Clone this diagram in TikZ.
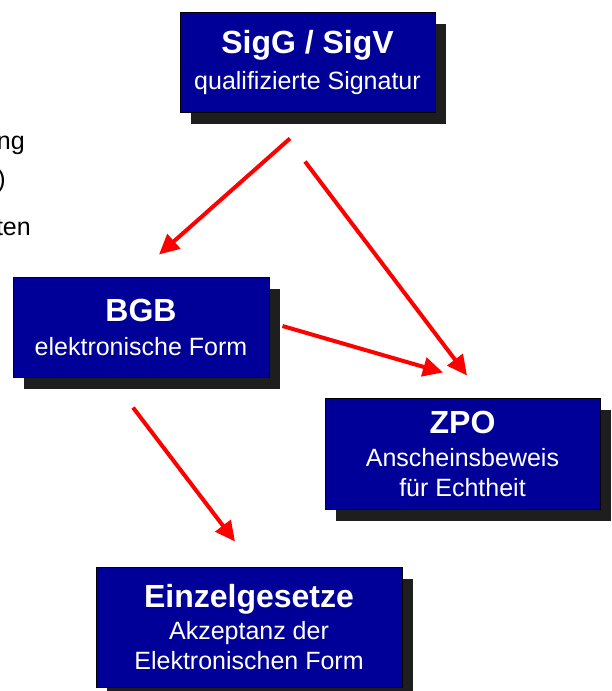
\documentclass[tikz,border=0pt]{standalone}
\usepackage{fontspec}
\setmainfont{Liberation Sans}
\usepackage{tikz}
\usetikzlibrary{
  arrows.meta,
  calc,
  shadows
}
\definecolor{LawBlue}{HTML}{000099}
\definecolor{ShadowGray}{HTML}{1E1E1E}
\definecolor{ArrowRed}{HTML}{FF0000}
\tikzset{
  % Law box: blue rectangle with hard shadow
  law/.style={
    rectangle, draw=black, line width=1pt, fill=LawBlue,
    text=white, align=center, inner sep=0pt,
    drop shadow={shadow xshift=11pt, shadow yshift=-12pt,
                 fill=ShadowGray, opacity=1}
  },
  % Arrow
  arr/.style={
    -{Triangle[length=20pt,width=19pt]},
    line width=4pt, color=ArrowRed
  },
  % Cut-off side text
  side/.style={font=\fontsize{25}{30}\selectfont, anchor=base east, inner sep=0pt}
}
\newcommand{\lawtitle}[1]{{\fontsize{32}{36}\selectfont\bfseries #1}}

\begin{document}
\begin{tikzpicture}[x=1pt, y=-1pt, font=\fontsize{25}{30}\selectfont]
  \useasboundingbox (0,0) rectangle (611,691);

  \node[side] (txta) at (25,149) {ng};
  \node[side] (txtb) at (6,187)  {)};
  \node[side] (txtc) at (31,235) {ten};

  \node[law, minimum width=255pt, minimum height=100pt] (sig)  at (307.5,62)
    {\lawtitle{SigG / SigV}\\[6pt]qualifizierte Signatur};
  \node[law, minimum width=256pt, minimum height=100pt] (bgb)  at (141,327)
    {\lawtitle{BGB}\\[4pt]elektronische Form};
  \node[law, minimum width=275pt, minimum height=111pt] (zpo)  at (462.5,453.5)
    {\lawtitle{ZPO}\\[3pt]Anscheinsbeweis\\für Echtheit};
  \node[law, minimum width=306pt, minimum height=120pt] (einz) at (249,627)
    {\lawtitle{Einzelgesetze}\\[2pt]Akzeptanz der\\Elektronischen Form};

  \draw[arr] ($(sig.south)+(-17.5,26)$) -- ($(bgb.north)+(18,-22)$);
  \draw[arr] ($(sig.south)+(-2.5,49)$)  -- ($(zpo.north)+(4.5,-22)$);
  \draw[arr] ($(bgb.east)+(13,-1)$)     -- ($(zpo.north)+(-19.5,-25)$);
  \draw[arr] ($(bgb.south)+(-8,30)$)    -- ($(einz.north)+(-14,-25)$);
\end{tikzpicture}
\end{document}
